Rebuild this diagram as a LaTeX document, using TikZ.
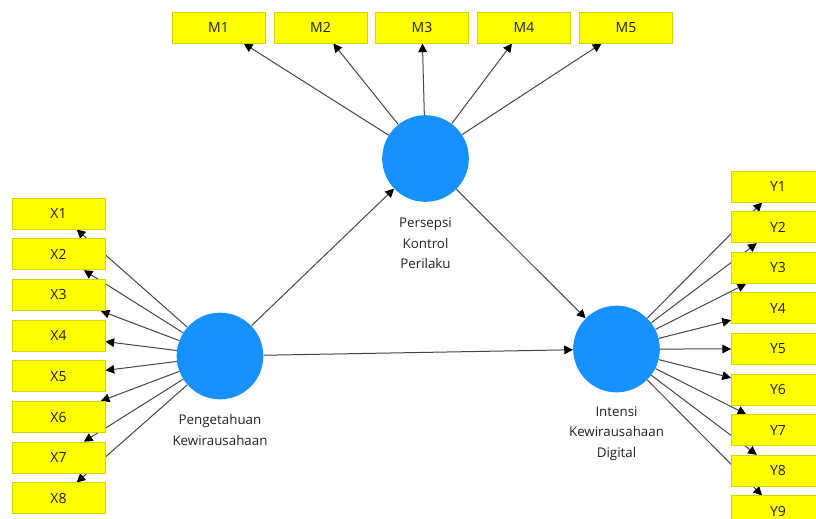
\documentclass[tikz,border=0pt]{standalone}
\usepackage{fontspec}
\setmainfont{Open Sans}
\usetikzlibrary{arrows.meta}
\pgfdeclarelayer{bg}
\pgfdeclarelayer{paper}
\pgfsetlayers{paper,bg,main}
\definecolor{boxfill}{RGB}{255,255,0}
\definecolor{boxline}{RGB}{212,212,0}
\definecolor{lv}{RGB}{22,145,255}
\definecolor{edge}{RGB}{70,70,70}
\definecolor{txt}{RGB}{35,35,35}
\tikzset{
  ind/.style={draw=boxline, fill=boxfill, line width=0.75pt, minimum width=69.75pt, minimum height=23.25pt, inner sep=0pt, text=txt, font=\fontsize{10.5}{12}\selectfont},
  latent/.style={circle, fill=lv, minimum size=65pt, inner sep=0pt},
  lbl/.style={align=center, text=txt, font=\fontsize{10}{15.4}\selectfont, inner sep=0pt},
  conn/.style={draw=edge, line width=0.75pt, -{Triangle[length=6.5pt,width=6.5pt,color=black]}}
}
\begin{document}
\begin{tikzpicture}[x=0.75pt,y=-0.75pt]
\useasboundingbox (0,0) rectangle (816,518);
\begin{pgfonlayer}{paper}
  \fill[white] (0,0) rectangle (816,518);
\end{pgfonlayer}
\clip (0,0) rectangle (816,518);
% latent variables
\node[latent] (P) at (220,356) {};
\node[latent] (K) at (425.5,158.5) {};
\node[latent] (I) at (616.5,349) {};
\node[lbl] (Pl) at (220,430) {Pengetahuan\\Kewirausahaan};
\node[lbl] (Kl) at (425.5,243.5) {Persepsi\\Kontrol\\Perilaku};
\node[lbl] (Il) at (616.5,433.5) {Intensi\\Kewirausahaan\\Digital};
% M indicators
\foreach \i/\x in {1/218.5,2/320.5,3/422,4/524,5/626}{
  \node[ind] (M\i) at (\x,27.5) {M\i};
}
% X indicators
\foreach \i in {1,...,8}{
  \node[ind] (X\i) at (58.5,{213.5+(\i-1)*40.7}) {X\i};
}
% Y indicators
\foreach \i in {1,...,9}{
  \node[ind] (Y\i) at (778,{186.5+(\i-1)*40.62}) {Y\i};
}
\begin{pgfonlayer}{bg}
  \foreach \i in {1,...,5}{ \draw[conn] (K) -- (M\i); }
  \foreach \i in {1,...,8}{ \draw[conn] (P) -- (X\i); }
  \foreach \i in {1,...,9}{ \draw[conn] (I) -- (Y\i); }
  \draw[conn] (P) -- (K);
  \draw[conn] (K) -- (I);
  \draw[conn] (P) -- (I);
\end{pgfonlayer}
\end{tikzpicture}
\end{document}
